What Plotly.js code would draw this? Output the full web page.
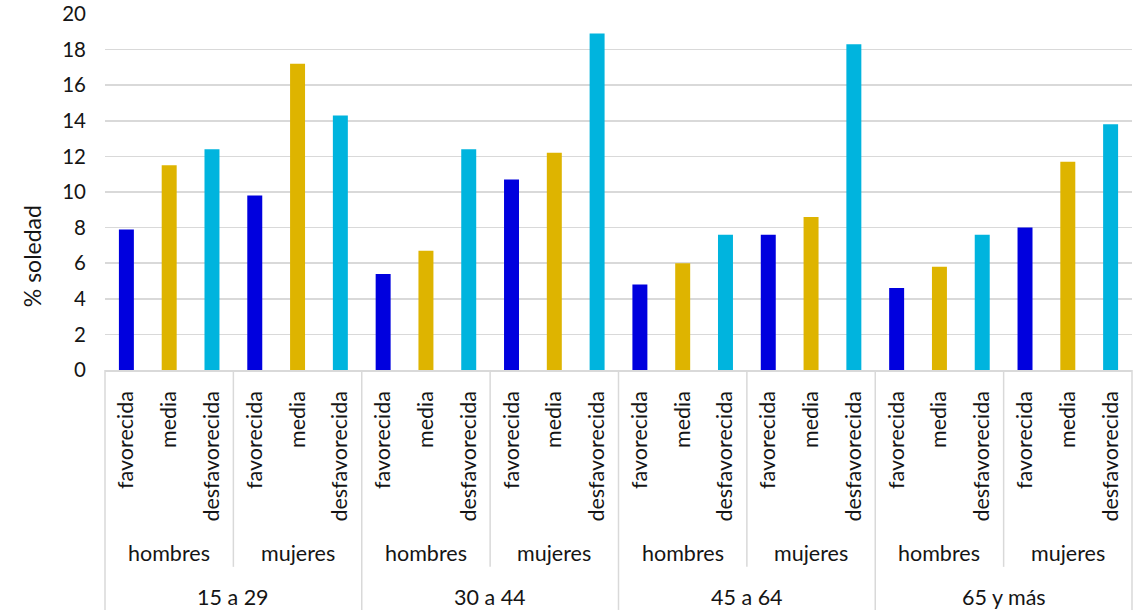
<!DOCTYPE html>
<html>
<head>
<meta charset="utf-8">
<script src="https://cdn.plot.ly/plotly-3.0.1.min.js"></script>
<style>html,body{margin:0;padding:0;background:#fff;}#chart{width:1140px;height:613px;}</style>
</head>
<body>
<div id="chart"></div>
<script>
// ---- data ----
const ageGroups = ['15 a 29', '30 a 44', '45 a 64', '65 y más'];
const sexes = ['hombres', 'mujeres'];
const classes = ['favorecida', 'media', 'desfavorecida'];
// values ordered: age group x sex (hombres, mujeres)
const favorecida    = [7.9, 9.8, 5.4, 10.7, 4.8, 7.6, 4.6, 8.0];
const media         = [11.5, 17.2, 6.7, 12.2, 6.0, 8.6, 5.8, 11.7];
const desfavorecida = [12.4, 14.3, 12.4, 18.9, 7.6, 18.3, 7.6, 13.8];
const yTitle = '% soledad';

// ---- styles ----
const colors = ['#0000DE', '#DEB400', '#00B4DE'];
const textColor = '#151515';
const gridColor = '#d9d9d9';
const font = 'Lato, "Open Sans", sans-serif';
const labelSize = 21.5;

const series = [favorecida, media, desfavorecida];
const nGroups = ageGroups.length * sexes.length;
const nCats = nGroups * classes.length;

const traces = series.map((vals, c) => ({
  type: 'bar',
  x: vals.map((v, g) => g * classes.length + c),
  y: vals,
  width: 0.35,
  marker: {color: colors[c], line: {width: 0}},
  name: classes[c],
  hoverinfo: 'y'
}));

const tickvals = [], ticktext = [];
for (let g = 0; g < nGroups; g++) {
  classes.forEach((cl, c) => { tickvals.push(g * classes.length + c); ticktext.push(cl); });
}

const annotations = [];
const shapes = [];
const sexY = -0.514, ageY = -0.638;
const sexLineBottom = -0.553, ageLineBottom = -0.674;

ageGroups.forEach((age, a) => {
  sexes.forEach((sx, s) => {
    const g = a * sexes.length + s;
    annotations.push({
      x: g * classes.length + (classes.length - 1) / 2, xref: 'x',
      y: sexY, yref: 'paper', yanchor: 'middle', xanchor: 'center',
      text: sx, showarrow: false,
      font: {family: font, size: labelSize, color: textColor}
    });
    if (s > 0) {
      const xb = g / nGroups;
      shapes.push({type: 'line', xref: 'paper', yref: 'paper', x0: xb, x1: xb,
        y0: 0, y1: sexLineBottom, line: {color: gridColor, width: 1.5}});
    }
  });
  annotations.push({
    x: (a * sexes.length * classes.length) + (sexes.length * classes.length - 1) / 2, xref: 'x',
    y: ageY, yref: 'paper', yanchor: 'middle', xanchor: 'center',
    text: age, showarrow: false,
    font: {family: font, size: labelSize, color: textColor}
  });
});
for (let a = 0; a <= ageGroups.length; a++) {
  const xb = a / ageGroups.length;
  shapes.push({type: 'line', xref: 'paper', yref: 'paper', x0: xb, x1: xb,
    y0: 0, y1: ageLineBottom, line: {color: gridColor, width: 1.5}});
}

annotations.push({
  x: -0.071, xref: 'paper', y: 0.32, yref: 'paper',
  xanchor: 'center', yanchor: 'middle', textangle: -90,
  text: yTitle, showarrow: false,
  font: {family: font, size: 23, color: textColor}
});

const layout = {
  width: 1140, height: 613,
  margin: {l: 105, r: 8, t: 14, b: 243},
  paper_bgcolor: '#fff', plot_bgcolor: '#fff',
  showlegend: false,
  barmode: 'overlay',
  font: {family: font, size: labelSize, color: textColor},
  xaxis: {
    range: [-0.5, nCats - 0.5],
    tickvals: tickvals, ticktext: ticktext,
    tickangle: -90,
    ticks: '', ticklabelstandoff: 11,
    showgrid: false, zeroline: false,
    showline: true, linecolor: gridColor, linewidth: 1.5,
    tickfont: {family: font, size: labelSize, color: textColor},
    fixedrange: true
  },
  yaxis: {
    range: [0, 20], dtick: 2,
    showgrid: true, gridcolor: gridColor, gridwidth: 1.5,
    zeroline: false, showline: false, ticks: '',
    ticklabelstandoff: 18,
    tickfont: {family: font, size: 20.5, color: textColor},
    fixedrange: true
  },
  shapes: shapes,
  annotations: annotations
};

Plotly.newPlot('chart', traces, layout, {displayModeBar: false, staticPlot: true});
</script>
</body>
</html>
